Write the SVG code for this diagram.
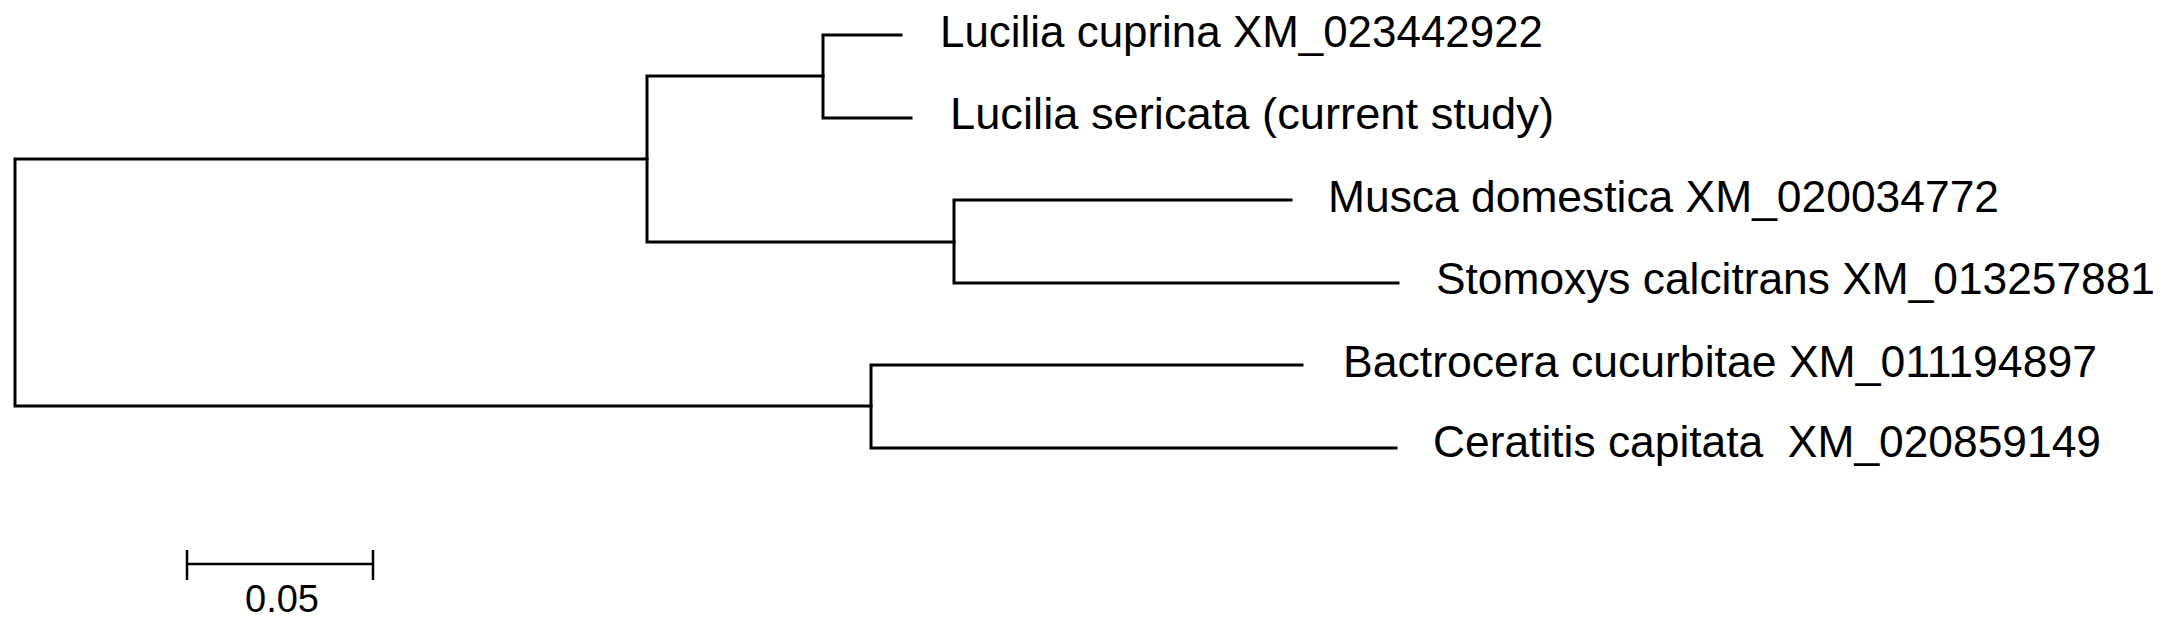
<svg xmlns="http://www.w3.org/2000/svg" width="2171" height="627" viewBox="0 0 2171 627">
<style>
.br{fill:none;stroke:#000;stroke-width:3;stroke-linecap:square;stroke-linejoin:miter}
.sb{fill:none;stroke:#000;stroke-width:2.5}
.lbl{font-family:"Liberation Sans",Arial,sans-serif;font-size:45px;fill:#000}
.sbl{font-family:"Liberation Sans",Arial,sans-serif;font-size:38px;fill:#000}
</style>
<rect width="2171" height="627" fill="#fff"/>
<g id="connectors">
<path class="br" d="M647,159 H15 V406 H871"/>
<path class="br" d="M823,76 H647 V242 H954"/>
<path class="br" d="M901,35 H823 V118 H911"/>
<path class="br" d="M1291,200 H954 V283 H1398"/>
<path class="br" d="M1302,365 H871 V448 H1396"/>
</g>
<g id="node-lucilia-cuprina"><text class="lbl" x="940" y="47" textLength="603" lengthAdjust="spacingAndGlyphs">Lucilia cuprina XM_023442922</text></g>
<g id="node-lucilia-sericata"><text class="lbl" x="950" y="129" textLength="604" lengthAdjust="spacingAndGlyphs">Lucilia sericata (current study)</text></g>
<g id="node-musca-domestica"><text class="lbl" x="1328" y="212" textLength="671" lengthAdjust="spacingAndGlyphs">Musca domestica XM_020034772</text></g>
<g id="node-stomoxys-calcitrans"><text class="lbl" x="1436" y="294" textLength="719" lengthAdjust="spacingAndGlyphs">Stomoxys calcitrans XM_013257881</text></g>
<g id="node-bactrocera-cucurbitae"><text class="lbl" x="1343" y="377" textLength="754" lengthAdjust="spacingAndGlyphs">Bactrocera cucurbitae XM_011194897</text></g>
<g id="node-ceratitis-capitata"><text class="lbl" x="1433" y="457" textLength="668" lengthAdjust="spacingAndGlyphs" xml:space="preserve">Ceratitis capitata  XM_020859149</text></g>
<g id="scale-bar">
<path class="sb" d="M187,564 H373 M187,550 V580 M373,550 V580"/>
<text class="sbl" x="282" y="612" text-anchor="middle">0.05</text>
</g>
</svg>
